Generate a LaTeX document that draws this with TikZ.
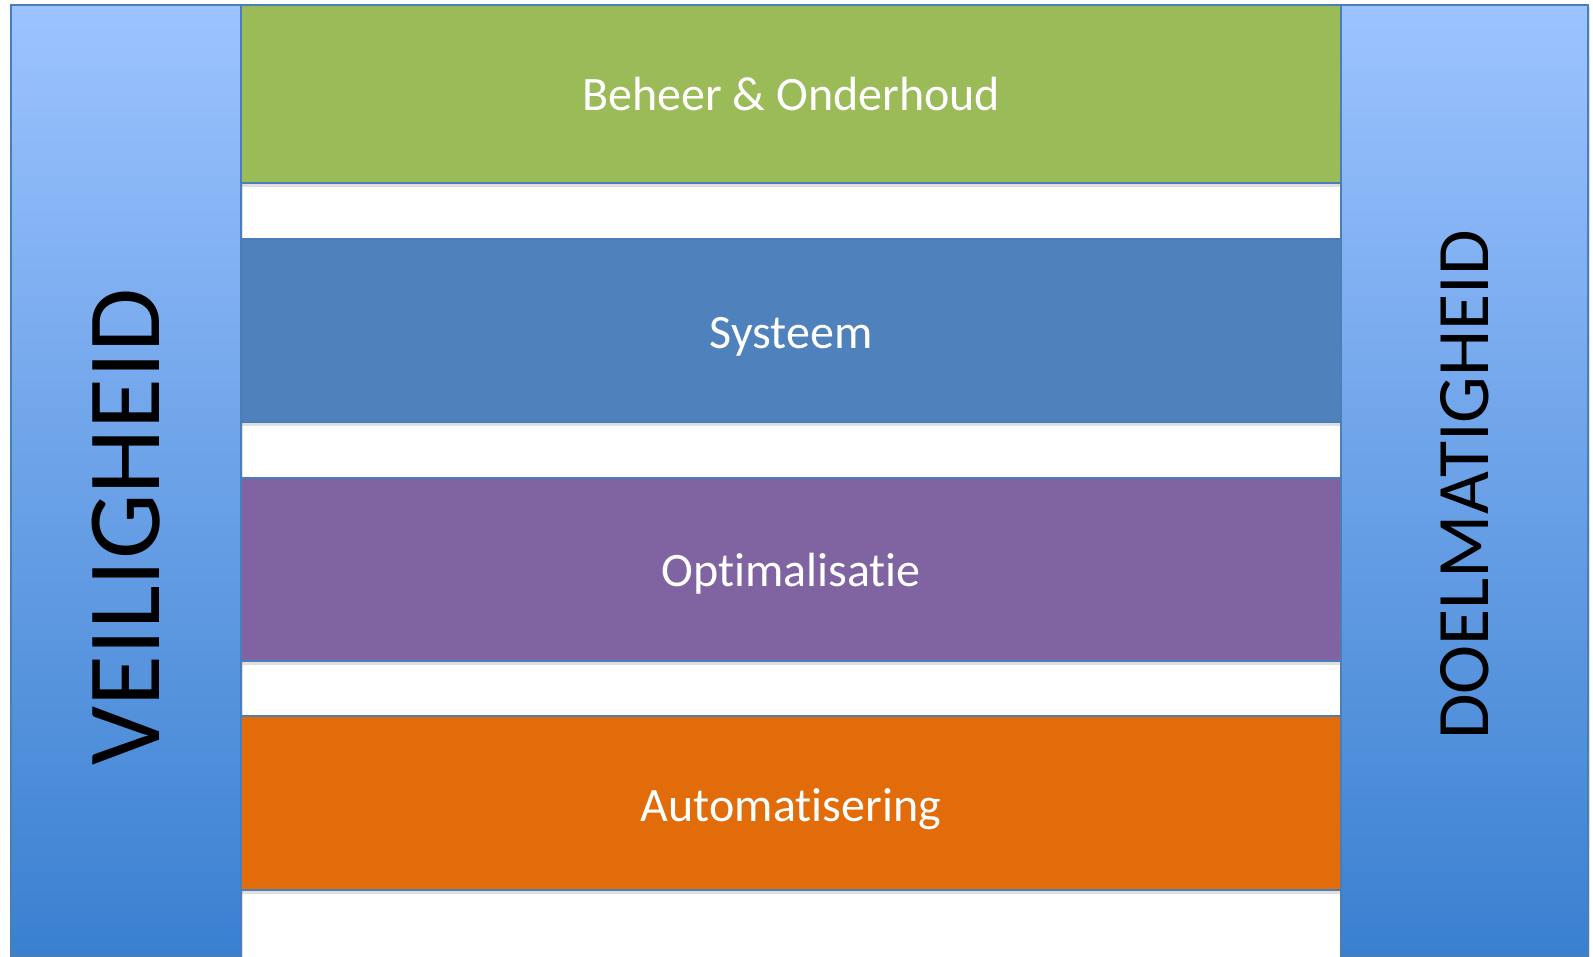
\documentclass[tikz,border=0pt]{standalone}
\usepackage{fontspec}
\setmainfont{Carlito}[Ligatures=NoCommon]
\usetikzlibrary{shadows}
\definecolor{pilltop}{RGB}{156,195,255}
\definecolor{pillbot}{RGB}{58,128,208}
\definecolor{pillborder}{RGB}{74,126,187}
\definecolor{bargreen}{RGB}{155,187,89}
\definecolor{barblue}{RGB}{79,129,189}
\definecolor{barpurple}{RGB}{128,100,162}
\definecolor{barorange}{RGB}{227,108,10}
\tikzset{
  pillar/.style={draw=pillborder, line width=1.5pt, top color=pilltop, bottom color=pillbot,
    drop shadow={opacity=0.25, shadow xshift=2pt, shadow yshift=-2pt}},
  barbox/.style={draw=pillborder, line width=1.5pt,
    drop shadow={opacity=0.25, shadow xshift=0pt, shadow yshift=-4pt}},
  bartext/.style={text=white, font=\fontsize{48}{56}\selectfont},
  pillartext/.style={text=black, rotate=90, inner sep=0pt}
}
\begin{document}
\begin{tikzpicture}[x=1pt,y=-1pt]
\useasboundingbox (0,0) rectangle (1593,957);
% pillars
\path[pillar] (11,5) rectangle (241,956);
\path[pillar] (1341,5) rectangle (1588,956);
% bars
\path[barbox, fill=bargreen] (241,5) rectangle (1341,183);
\path[barbox, fill=barblue] (241,239) rectangle (1341,422);
\path[barbox, fill=barpurple] (241,478) rectangle (1341,661);
\path[barbox, fill=barorange] (241,716) rectangle (1341,890);
% labels
\node[bartext] (b1) at (791,94) {Beheer \& Onderhoud};
\node[bartext] (b2) at (791,337) {Systeem};
\node[bartext] (b3) at (791,574) {Optimalisatie};
\node[bartext] (b4) at (791,809) {Automatisering};
\node[pillartext, font=\fontsize{104}{110}\selectfont] (veil) at (126,527) {VEILIGHEID};
\node[pillartext, font=\fontsize{74}{80}\selectfont] (doel) at (1465,485) {DOELMATIGHEID};
\end{tikzpicture}
\end{document}
